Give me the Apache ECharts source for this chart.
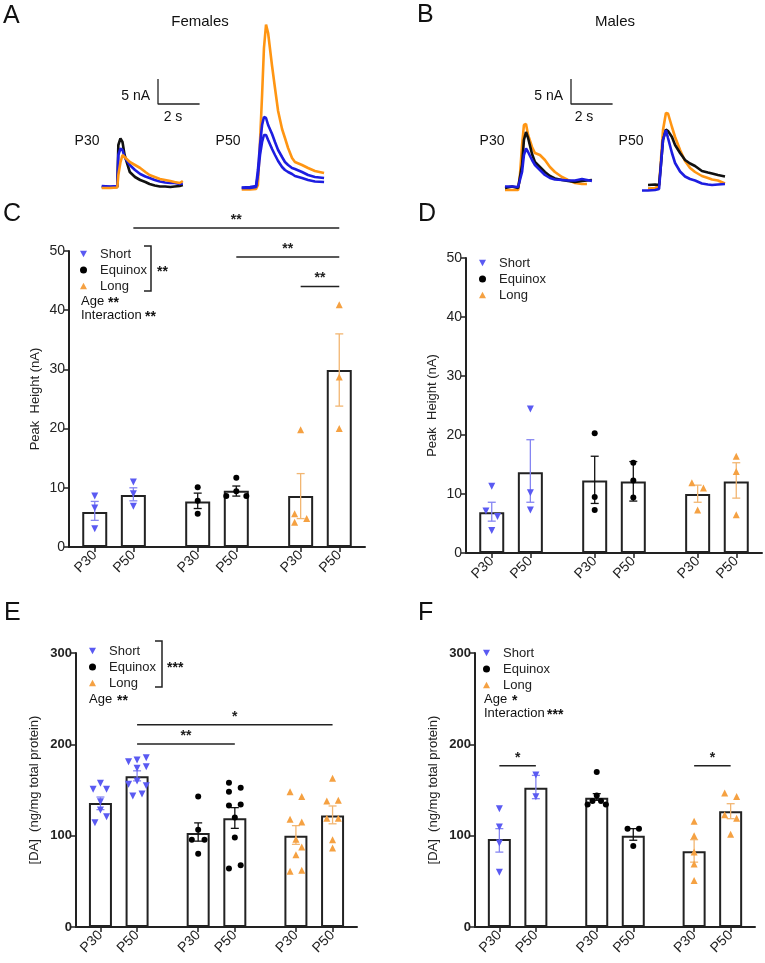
<!DOCTYPE html>
<html><head><meta charset="utf-8">
<script src="https://cdn.jsdelivr.net/npm/echarts@6/dist/echarts.min.js"></script>
<style>html,body{margin:0;padding:0;background:#fff}#c{width:765px;height:963px}</style>
</head><body><div id="c"></div>
<script>
// ---------- categories ----------
const groups = ['Short', 'Equinox', 'Long'];
const xLabels = ['P30', 'P50', 'P30', 'P50', 'P30', 'P50'];

// ---------- C: Females peak height (nA) ----------
const cMean = [5.9, 8.8, 7.7, 9.5, 8.6, 29.9];
const cLo = [4.5, 7.8, 6.5, 8.6, 4.8, 23.8];
const cHi = [7.7, 10.0, 9.1, 10.3, 12.4, 36.0];
const cPoints = [[8.6, 6.6, 3.1], [11.0, 9.0, 6.9], [10.1, 7.8, 5.6], [8.6, 9.4, 8.6, 11.7], [19.8, 5.6, 4.2, 4.8], [40.9, 28.7, 20.0]];
const cSigPairs = [[1, 5], [3, 5], [4, 5]];
const cSigY = [53.9, 49.0, 44.0];
const cSigText = ['**', '**', '**'];

// ---------- D: Males peak height (nA) ----------
const dMean = [6.9, 13.7, 12.3, 12.1, 10.0, 12.1];
const dLo = [5.4, 8.6, 8.4, 8.8, 8.6, 9.3];
const dHi = [8.6, 19.2, 16.4, 15.5, 11.5, 15.3];
const dPoints = [[11.3, 7.1, 6.2, 3.8], [24.4, 10.2, 7.3], [20.3, 9.5, 7.3], [15.3, 12.3, 9.4], [11.9, 11.0, 7.3], [16.4, 13.8, 6.5]];

// ---------- E: Females [DA] ----------
const eMean = [135.8, 165, 103, 119, 100, 122];
const eLo = [128.5, 160, 94, 108, 90.5, 113];
const eHi = [142.3, 171, 114, 130.7, 111, 132.5];
const ePoints = [
  [150.8, 157.3, 150.8, 137.2, 128.1, 120.8, 114.2],
  [181, 182.9, 185.4, 173.8, 175.5, 156.2, 159.9, 154.7, 143.4, 145.6],
  [143, 106.6, 95.6, 95.6, 80.3],
  [158, 152.6, 148, 133, 134, 120, 98, 64, 67.5],
  [148, 143, 118, 115, 96, 87.6, 79, 61, 62],
  [163, 138, 138.7, 119, 119, 95.6, 86.5]
];
const eSigPairs = [[1, 3], [1, 5]];
const eSigY = [200.4, 221.5];
const eSigText = ['**', '*'];

// ---------- F: Males [DA] ----------
const fMean = [96.4, 152.6, 141.6, 100, 83, 126.6];
const fLo = [82, 140.5, 138.7, 95, 71, 118.6];
const fHi = [107.7, 166, 146, 107.7, 95.6, 135];
const fPoints = [
  [129.6, 109.5, 92, 60],
  [166.4, 142.7],
  [169.7, 144, 138, 138, 134, 134],
  [107.7, 107.7, 88.7],
  [115.7, 100, 82, 69, 51],
  [146.7, 143, 123, 119, 101.5]
];
const fSigPairs = [[0, 1], [4, 5]];
const fSigY = [176.6, 176.6];
const fSigText = ['*', '*'];

// ---------- A / B traces (time s, current nA) ----------
const aP30_t = [0, 0.4, 0.75, 0.8, 0.9, 1.0, 1.1, 1.35, 1.6, 1.85, 2.1, 2.3, 2.55, 2.8, 3.05, 3.3, 3.5, 3.75, 3.9];
const aP30_black = [0.1, 0.1, 0.1, 8.5, 9.8, 9.1, 6.5, 3.1, 2.1, 1.5, 1.1, 0.7, 0.4, 0.2, 0.2, 0.1, 0.2, 0.3, 0.5];
const aP30_blue = [0.3, 0.2, 0.3, 6.5, 7.8, 7.5, 6.1, 4.5, 3.5, 2.7, 2.2, 1.9, 1.5, 1.2, 1.0, 0.9, 0.9, 0.7, 0.8];
const aP30_orange = [-0.1, -0.1, 0, 2.5, 5.0, 6.5, 6.1, 5.1, 4.5, 3.9, 3.1, 2.5, 2.1, 1.7, 1.5, 1.3, 1.1, 0.9, 1.3];

const aP50_t = [0, 0.4, 0.69, 0.78, 0.88, 0.98, 1.07, 1.17, 1.27, 1.46, 1.6, 1.75, 1.94, 2.08, 2.23, 2.42, 2.56, 2.9, 3.19, 3.52, 3.96];
const aP50_blueA = [0.2, 0.3, 0.5, 3.7, 8.7, 12.7, 14.3, 14.1, 12.7, 10.9, 9.3, 7.7, 6.3, 5.3, 4.7, 4.1, 3.9, 3.3, 2.7, 2.3, 2.1];
const aP50_blueB = [0.1, 0.1, 0.3, 2.7, 6.7, 9.3, 10.7, 10.7, 9.7, 7.9, 6.7, 5.5, 4.3, 3.7, 3.3, 2.9, 2.5, 2.1, 1.7, 1.4, 1.3];
const aP50_orange = [-0.2, -0.2, -0.1, 0.7, 9.3, 18.7, 28.1, 32.8, 31.1, 24.5, 20.1, 15.5, 11.9, 10.1, 8.1, 6.1, 5.3, 4.7, 4.1, 3.5, 3.1];

const bP30_t = [0, 0.34, 0.63, 0.72, 0.82, 0.91, 1.01, 1.11, 1.3, 1.44, 1.68, 1.92, 2.16, 2.4, 2.74, 3.03, 3.37, 3.7, 3.94, 4.18];
const bP30_black = [0.1, 0.4, 0.1, 0.3, 4.7, 9.7, 11.3, 10.1, 6.9, 5.3, 4.3, 3.3, 2.5, 2.0, 1.7, 1.5, 1.3, 1.5, 1.6, 1.7];
const bP30_blue = [0.4, 0.4, 0.3, 0.5, 3.3, 6.7, 8.0, 7.3, 5.7, 4.7, 3.7, 2.7, 2.1, 1.8, 1.7, 1.6, 1.6, 1.9, 1.7, 1.5];
const bP30_orange = [-0.3, -0.3, -0.3, 2.7, 8.7, 12.7, 12.9, 10.7, 8.3, 7.1, 6.7, 5.7, 4.3, 3.3, 2.3, 1.7, 1.1, 0.9, 0.9, null];

const bP50_t = [0, 0.29, 0.63, 0.82, 0.91, 1.01, 1.15, 1.25, 1.44, 1.59, 1.83, 2.07, 2.31, 2.55, 2.88, 3.17, 3.37, 3.65, 3.99];
const bP50_black = [null, 1.0, 1.1, 1.0, 5, 10, 12.1, 11.8, 10.6, 9, 7.4, 6, 5.3, 4.8, 3.8, 3.5, 3.3, 3.0, 2.7];
const bP50_blue = [-0.1, -0.1, 0, 0.2, 5, 10, 12, 10.4, 7.4, 5.4, 3.7, 2.7, 2.2, 1.9, 1.3, 1.1, 1.0, 1.1, 1.2];
const bP50_orange = [null, 0.3, 0.4, 0.8, 6, 12, 15.4, 15.3, 12.6, 10.6, 8, 5.8, 4.4, 3.6, 2.8, 2.4, 2.1, 1.9, 1.3];

const scaleT = [0, 0, 2];   // 2 s
const scaleV = [5, 0, 0];   // 5 nA

// ---------- layout (positions / styles) ----------
const FONT = "'Liberation Sans', Arial, Helvetica, sans-serif";
const xPos = [0, 3, 8, 11, 16, 19];
const cJit = [[0, 0, 0], [0, 0, 0], [0, 0, 0], [-0.78, 0, 0.78, 0], [0, -0.47, -0.47, 0.47], [0, 0, 0]];
const dJit = [[0, -0.45, 0.45, 0], [0, 0, 0], [0, 0, 0], [0, 0, 0], [-0.45, 0.45, 0], [0, 0, 0]];
const eJit = [[-0.6, 0, 0.5, 0, 0, 0.5, -0.45], [-0.7, 0, 0.75, 0, 0.75, -0.7, 0, 0.75, -0.35, 0.4], [0, 0, -0.52, 0.52, 0], [-0.48, 0.48, -0.48, -0.48, 0.48, 0, 0, -0.48, 0.48], [-0.48, 0.48, -0.48, 0.48, 0, 0.48, 0, -0.48, 0.48], [0, -0.47, 0.47, -0.47, 0.47, 0, 0]];
const fJit = [[0, 0, 0, 0], [0, 0], [0, 0, -0.35, 0.35, -0.75, 0.75], [-0.47, 0.47, 0], [0, 0, 0, 0, 0], [-0.49, 0.49, -0.49, 0.49, 0]];
const DOWN = 'path://M0,0L10,0L5,9Z';
const UP = 'path://M5,0L10,9L0,9Z';
const sym = [DOWN, 'circle', UP];
const symSize = [7, 6, 7];
const markCol = ['#5a5af2', '#000000', '#f5a142'];
const errCol = ['#8585f2', '#111111', '#f2b672'];
const BLUE = '#1d1de0', ORANGE = '#ff9512', BLACK = '#111111';
const PX_S = 20.8, PX_NA = 5, T_MAX = 4.4, V_PAD = 2;
const STAR_FONT = 'bold 14px ' + FONT;

const grids = [
  { left: 69, top: 251, width: 296, height: 296 },   // C
  { left: 466, top: 258, width: 296, height: 295 },  // D
  { left: 76, top: 653, width: 281, height: 274 },   // E
  { left: 475, top: 653, width: 280, height: 274 },  // F
];
function traceGrid(left, baseY, vMax) {
  return { left: left, top: baseY - vMax * PX_NA, width: T_MAX * PX_S, height: (vMax + V_PAD) * PX_NA };
}
const traceGrids = [traceGrid(101.7, 187.5, 12), traceGrid(241.7, 188.5, 35), traceGrid(505, 188.5, 15), traceGrid(642, 190, 17)];
const traceVMax = [12, 35, 15, 17];
const scaleGrids = [{ left: 158, top: 79, width: 2 * PX_S, height: 5 * PX_NA }, { left: 571, top: 79, width: 2 * PX_S, height: 5 * PX_NA }];

const allGrids = grids.concat(traceGrids, scaleGrids);
const xAxes = [], yAxes = [];
const labelMap = {};
xPos.forEach((x, i) => { labelMap[x] = xLabels[i]; });

const panelY = [
  { max: 50, interval: 10, name: 'Peak  Height (nA)', gap: 27, bold: false },
  { max: 50, interval: 10, name: 'Peak  Height (nA)', gap: 27, bold: false },
  { max: 300, interval: 100, name: '[DA]  (ng/mg total protein)', gap: 35, bold: true },
  { max: 300, interval: 100, name: '[DA]  (ng/mg total protein)', gap: 35, bold: true },
];
const lineSt = { color: '#222', width: 2 };
panelY.forEach((p, i) => {
  xAxes.push({
    type: 'value', gridIndex: i, min: -2, max: 21, splitLine: { show: false },
    axisLine: { show: true, onZero: false, lineStyle: lineSt },
    axisTick: { show: true, customValues: xPos, length: 5, lineStyle: { color: '#222', width: 1.5 } },
    axisLabel: { customValues: xPos, formatter: v => labelMap[v] || '', rotate: 45, fontSize: 14, color: '#222', fontFamily: FONT, margin: 6 }
  });
  yAxes.push({
    type: 'value', gridIndex: i, min: 0, max: p.max, interval: p.interval, splitLine: { show: false },
    axisLine: { show: true, onZero: false, lineStyle: lineSt },
    axisTick: { show: true, length: 5, lineStyle: { color: '#222', width: 1.5 } },
    axisLabel: { fontSize: p.bold ? 13 : 14, fontWeight: p.bold ? 'bold' : 'normal', color: '#222', fontFamily: FONT, margin: 4 },
    name: p.name, nameLocation: 'middle', nameGap: p.gap, nameRotate: 90,
    nameTextStyle: { fontSize: 13, color: '#222', fontFamily: FONT }
  });
});
traceGrids.forEach((g, k) => {
  xAxes.push({ type: 'value', gridIndex: 4 + k, min: 0, max: T_MAX, show: false });
  yAxes.push({ type: 'value', gridIndex: 4 + k, min: -V_PAD, max: traceVMax[k], show: false });
});
scaleGrids.forEach((g, k) => {
  xAxes.push({ type: 'value', gridIndex: 8 + k, min: 0, max: 2, show: false });
  yAxes.push({ type: 'value', gridIndex: 8 + k, min: 0, max: 5, show: false });
});

function errRender(params, api) {
  const x = api.value(0);
  const p1 = api.coord([x, api.value(1)]), p2 = api.coord([x, api.value(2)]);
  const st = { stroke: api.visual('color'), lineWidth: 1.3 };
  const w = 4;
  return { type: 'group', children: [
    { type: 'line', shape: { x1: p1[0], y1: p1[1], x2: p2[0], y2: p2[1] }, style: st },
    { type: 'line', shape: { x1: p1[0] - w, y1: p1[1], x2: p1[0] + w, y2: p1[1] }, style: st },
    { type: 'line', shape: { x1: p2[0] - w, y1: p2[1], x2: p2[0] + w, y2: p2[1] }, style: st }
  ] };
}

const series = [];
function addPanel(pi, mean, lo, hi, pts, jit, barW, sigPairs, sigY, sigText) {
  series.push({
    type: 'bar', xAxisIndex: pi, yAxisIndex: pi, barWidth: barW, z: 1, silent: true,
    data: xPos.map((x, i) => [x, mean[i]]),
    itemStyle: { color: '#ffffff', borderColor: '#222', borderWidth: 2 }
  });
  groups.forEach((g, gi) => {
    const idx = [2 * gi, 2 * gi + 1];
    const sd = [];
    idx.forEach(i => pts[i].forEach((v, j) => sd.push([xPos[i] + jit[i][j], v])));
    series.push({
      type: 'custom', xAxisIndex: pi, yAxisIndex: pi, z: 3, silent: true, renderItem: errRender,
      encode: { x: 0, y: [1, 2] }, data: idx.map(i => [xPos[i], lo[i], hi[i]]), itemStyle: { color: errCol[gi] }
    });
    series.push({
      type: 'scatter', name: g, xAxisIndex: pi, yAxisIndex: pi, z: 4, symbol: sym[gi], symbolSize: symSize[gi],
      data: sd, itemStyle: { color: markCol[gi], opacity: 1 }
    });
  });
  if (sigPairs) {
    series.push({
      type: 'custom', xAxisIndex: pi, yAxisIndex: pi, z: 5, clip: false, silent: true,
      encode: { x: [0, 1], y: 2 },
      data: sigPairs.map((p, k) => [xPos[p[0]], xPos[p[1]], sigY[k]]),
      renderItem: (params, api) => {
        const a = api.coord([api.value(0), api.value(2)]), b = api.coord([api.value(1), api.value(2)]);
        return { type: 'group', children: [
          { type: 'line', shape: { x1: a[0], y1: a[1], x2: b[0], y2: b[1] }, style: { stroke: '#222', lineWidth: 1.5 } },
          { type: 'text', x: (a[0] + b[0]) / 2, y: a[1] - 1, style: { text: sigText[params.dataIndex], font: STAR_FONT, fill: '#222', align: 'center', verticalAlign: 'bottom' } }
        ] };
      }
    });
  }
}
addPanel(0, cMean, cLo, cHi, cPoints, cJit, 25, cSigPairs, cSigY, cSigText);
addPanel(1, dMean, dLo, dHi, dPoints, dJit, 25, null);
addPanel(2, eMean, eLo, eHi, ePoints, eJit, 23, eSigPairs, eSigY, eSigText);
addPanel(3, fMean, fLo, fHi, fPoints, fJit, 23, fSigPairs, fSigY, fSigText);

function trace(gi, t, v, color) {
  const d = [];
  t.forEach((tt, i) => { if (v[i] != null) d.push([tt, v[i]]); });
  series.push({ type: 'line', xAxisIndex: gi, yAxisIndex: gi, data: d, showSymbol: false, silent: true, clip: false,
    lineStyle: { color: color, width: 2.6 }, itemStyle: { color: color }, z: 2 });
}
trace(4, aP30_t, aP30_black, BLACK);
trace(4, aP30_t, aP30_blue, BLUE);
trace(4, aP30_t, aP30_orange, ORANGE);
trace(5, aP50_t, aP50_orange, ORANGE);
trace(5, aP50_t, aP50_blueA, BLUE);
trace(5, aP50_t, aP50_blueB, BLUE);
trace(6, bP30_t, bP30_orange, ORANGE);
trace(6, bP30_t, bP30_black, BLACK);
trace(6, bP30_t, bP30_blue, BLUE);
trace(7, bP50_t, bP50_orange, ORANGE);
trace(7, bP50_t, bP50_black, BLACK);
trace(7, bP50_t, bP50_blue, BLUE);
[8, 9].forEach(gi => series.push({ type: 'line', xAxisIndex: gi, yAxisIndex: gi, data: scaleT.map((t, i) => [t, scaleV[i]]),
  showSymbol: false, silent: true, clip: false, lineStyle: { color: '#222', width: 1.3 } }));

function legendAt(left, top) {
  return { left: left, top: top, orient: 'vertical', data: groups, itemWidth: 7, itemHeight: 7, itemGap: 0, padding: 0,
    selectedMode: false, textStyle: { fontSize: 13, color: '#222', lineHeight: 16, fontFamily: FONT, padding: [0, 0, 0, 8] } };
}

function txt(x, y, s, size, opts) {
  return { type: 'text', x: x, y: y, silent: true,
    style: { text: s, font: (opts && opts.weight ? opts.weight + ' ' : '') + size + 'px ' + FONT, fill: '#111',
      align: (opts && opts.align) || 'left', verticalAlign: 'middle' } };
}
function bracket(x1, x2, y1, y2) {
  return { type: 'polyline', silent: true, shape: { points: [[x1, y1], [x2, y1], [x2, y2], [x1, y2]] }, style: { stroke: '#222', lineWidth: 1.5, fill: null } };
}
const graphics = [
  txt(3, 16, 'A', 25), txt(417, 15, 'B', 25), txt(3, 214, 'C', 25), txt(418, 214, 'D', 25), txt(4, 613, 'E', 25), txt(418, 613, 'F', 25),
  txt(200, 22, 'Females', 15, { align: 'center' }), txt(615, 22, 'Males', 15, { align: 'center' }),
  txt(87, 141, 'P30', 14, { align: 'center' }), txt(228, 141, 'P50', 14, { align: 'center' }),
  txt(492, 141, 'P30', 14, { align: 'center' }), txt(631, 141, 'P50', 14, { align: 'center' }),
  txt(150, 96, '5 nA', 14, { align: 'right' }), txt(173, 117, '2 s', 14, { align: 'center' }),
  txt(563, 96, '5 nA', 14, { align: 'right' }), txt(584, 117, '2 s', 14, { align: 'center' }),
  bracket(144, 151, 246, 291), txt(157, 272, '**', 14, { weight: 'bold' }),
  txt(81, 301, 'Age', 13), txt(108, 303, '**', 14, { weight: 'bold' }),
  txt(81, 315, 'Interaction', 13), txt(145, 317, '**', 14, { weight: 'bold' }),
  bracket(155, 162, 641, 687), txt(167, 668, '***', 14, { weight: 'bold' }),
  txt(89, 699, 'Age', 13), txt(117, 701, '**', 14, { weight: 'bold' }),
  txt(484, 699, 'Age', 13), txt(512, 701, '*', 14, { weight: 'bold' }),
  txt(484, 713, 'Interaction', 13), txt(547, 715, '***', 14, { weight: 'bold' })
];

const chart = echarts.init(document.getElementById('c'), null, { renderer: 'canvas' });
chart.setOption({
  animation: false,
  backgroundColor: '#ffffff',
  textStyle: { fontFamily: FONT },
  grid: allGrids,
  xAxis: xAxes,
  yAxis: yAxes,
  legend: [legendAt(80, 246), legendAt(479, 255), legendAt(89, 643), legendAt(483, 645)],
  graphic: graphics,
  series: series
});
</script></body></html>
